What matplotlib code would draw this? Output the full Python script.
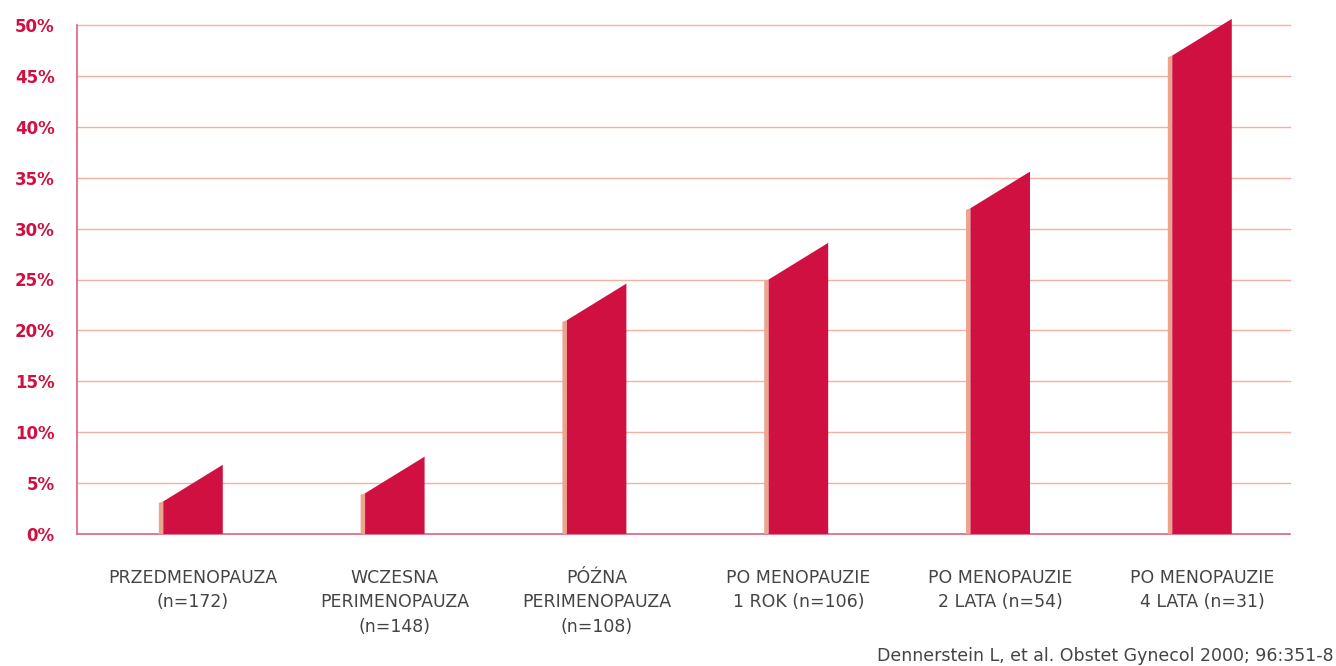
import matplotlib
matplotlib.use("Agg")
import matplotlib.pyplot as plt
from matplotlib.patches import Polygon

categories = ["PRZEDMENOPAUZA\n(n=172)", "WCZESNA\nPERIMENOPAUZA\n(n=148)",
              "PÓŹNA\nPERIMENOPAUZA\n(n=108)", "PO MENOPAUZIE\n1 ROK (n=106)",
              "PO MENOPAUZIE\n2 LATA (n=54)", "PO MENOPAUZIE\n4 LATA (n=31)"]
values = [3.2, 4.0, 21.0, 25.0, 32.0, 47.0]
yticks = [0, 5, 10, 15, 20, 25, 30, 35, 40, 45, 50]
ytick_labels = [f"{t}%" for t in yticks]
citation = "Dennerstein L, et al. Obstet Gynecol 2000; 96:351-8"

RED = "#D01040"
SALMON = "#EBA48E"
GRID = "#F4B0A0"
SPINE = "#E0607F"
TICK = "#D01040"
TEXT = "#444444"

fig = plt.figure(figsize=(13.36, 6.66), dpi=100)
ax = fig.add_axes([77/1336, 132/666, (1290-77)/1336, (534-25)/666])
ax.set_xlim(-0.575, 5.436)
ax.set_ylim(0, 50)

w = 0.295
s = 0.022
slant = 3.6
for i, v in enumerate(values):
    red = Polygon([(i - w/2, 0), (i + w/2, 0), (i + w/2, v + slant), (i - w/2, v)],
                  closed=True, facecolor=RED, edgecolor="none", clip_on=False, zorder=3)
    side = Polygon([(i - w/2 - s, 0), (i - w/2, 0), (i - w/2, v), (i - w/2 - s, v - 0.15)],
                   closed=True, facecolor=SALMON, edgecolor="none", clip_on=False, zorder=3)
    ax.add_patch(side)
    ax.add_patch(red)

ax.set_yticks(yticks)
ax.set_yticklabels(ytick_labels)
for t in yticks[1:]:
    ax.axhline(t, color=GRID, linewidth=1.0, zorder=1, clip_on=False)
ax.tick_params(axis="y", length=0, pad=16, labelcolor=TICK, labelsize=12)
for lbl in ax.get_yticklabels():
    lbl.set_fontweight("bold")
ax.set_xticks(range(len(categories)))
ax.set_xticklabels(categories, color=TEXT, fontsize=12.5, linespacing=1.48, va="top")
ax.tick_params(axis="x", length=0, pad=25)

for side_name in ["top", "right"]:
    ax.spines[side_name].set_visible(False)
ax.spines["left"].set_color(SPINE)
ax.spines["bottom"].set_color(SPINE)
ax.spines["left"].set_linewidth(1.2)
ax.spines["bottom"].set_linewidth(1.2)

fig.text(1334/1336, 1 - 656/666, citation, ha="right", va="center", color=TEXT, fontsize=12.5)

fig.savefig("out.png", dpi=100)
